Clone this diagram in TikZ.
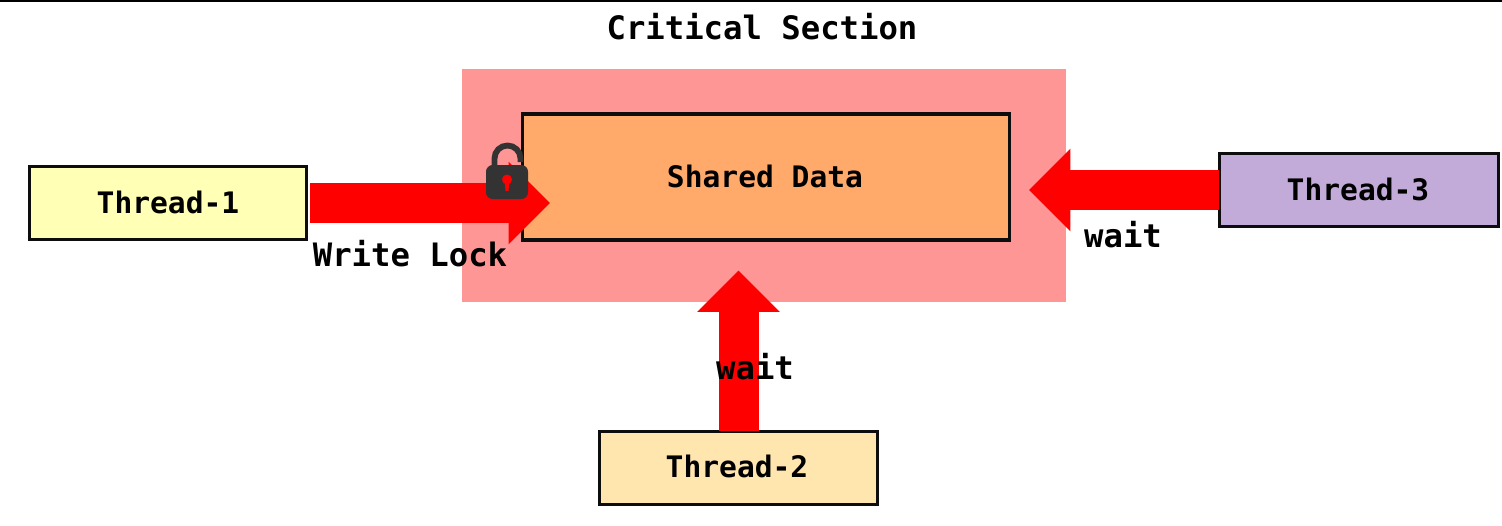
\documentclass[tikz,border=0pt]{standalone}
\usepackage{fontspec}
\setmonofont{DejaVu Sans Mono}
\usetikzlibrary{arrows.meta}
\definecolor{pinkzone}{HTML}{FF9696}
\definecolor{shared}{HTML}{FFA96B}
\definecolor{tone}{HTML}{FFFFB5}
\definecolor{ttwo}{HTML}{FFE5AE}
\definecolor{tthree}{HTML}{C3ABD9}
\definecolor{lockgrey}{HTML}{333333}
\tikzset{
  x=0.75pt,y=-0.75pt,
  lbl/.style={font=\ttfamily\bfseries\fontsize{22.2pt}{24pt}\selectfont,text=black,inner sep=0pt},
  biglbl/.style={font=\ttfamily\bfseries\fontsize{24.2pt}{26pt}\selectfont,text=black,inner sep=0pt},
  box/.style={draw=black!95,line width=2.4pt,minimum height=54.4pt,inner sep=0pt,anchor=center},
  fat/.style={draw=red,line width=30pt,-{Triangle[length=31pt,width=60pt,sep=0pt]},red},
}
\begin{document}
\begin{tikzpicture}
\useasboundingbox (0,0) rectangle (1502,525);
\fill[black] (0,0) rectangle (1502,2);
\node[fill=pinkzone,minimum width=453pt,minimum height=174.75pt,inner sep=0pt] (zone) at (764,185.5) {};
\node[box,fill=shared,minimum width=365pt,minimum height=94.5pt] (sharedbox) at (766,177) {};
\node[box,fill=tone,minimum width=207.5pt] (t1) at (168,203) {};
\node[box,fill=ttwo,minimum width=208.5pt] (t2) at (738.5,468) {};
\node[box,fill=tthree,minimum width=209pt] (t3) at (1359,190) {};
\coordinate (tipa) at (550,203);
\coordinate (tipb) at (738.5,270.5);
\coordinate (tipc) at (1029,190);
\draw[fat,shorten <=1.6pt] (t1.east) -- (tipa);
\draw[fat,shorten <=-0.8pt] (t2.north) -- (tipb);
\draw[fat,shorten <=-0.8pt] (t3.west) -- (tipc);
% padlock
\draw[lockgrey,line width=4.4pt] (494.5,168) -- (494.5,158.5) arc[start angle=180,end angle=0,x radius=13,y radius=-13] -- (520.5,162);
\fill[lockgrey,rounded corners=5pt] (486,165) rectangle (528,199);
\fill[red] (507,179.5) circle[radius=5];
\fill[red] (504.5,180) -- (509.5,180) -- (508.5,191) -- (505.5,191) -- cycle;
\node[biglbl] (title) at (762,27) {Critical Section};
\node[lbl] (sd) at (765,176) {Shared Data};
\node[lbl] (la) at (168,202) {Thread-1};
\node[lbl] (lb) at (737,466.5) {Thread-2};
\node[lbl] (lc) at (1358,189) {Thread-3};
\node[biglbl] (wl) at (410,254) {Write Lock};
\node[biglbl] (wc) at (1123,235) {wait};
\node[biglbl] (wb) at (755,366.5) {wait};
\end{tikzpicture}
\end{document}
